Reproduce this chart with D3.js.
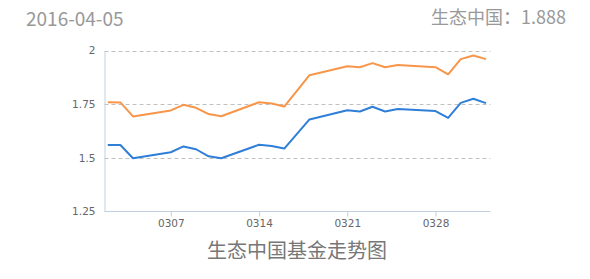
<!DOCTYPE html>
<html><head><meta charset="utf-8">
<script src="https://cdn.jsdelivr.net/npm/d3@7"></script>
<style>
html,body{margin:0;padding:0;background:#fff;}
svg{display:block;}
</style></head>
<body>
<svg id="c" width="590" height="279"></svg>
<script>
const dates = ["2016-03-02","2016-03-03","2016-03-04","2016-03-07","2016-03-08","2016-03-09","2016-03-10","2016-03-11","2016-03-14","2016-03-15","2016-03-16","2016-03-18","2016-03-21","2016-03-22","2016-03-23","2016-03-24","2016-03-25","2016-03-28","2016-03-29","2016-03-30","2016-03-31","2016-04-01"];
const orangeValues = [1.759,1.758,1.693,1.721,1.747,1.733,1.704,1.694,1.759,1.753,1.739,1.885,1.927,1.922,1.941,1.922,1.932,1.922,1.889,1.960,1.977,1.960];
const blueValues   = [1.560,1.560,1.498,1.526,1.553,1.540,1.507,1.498,1.561,1.555,1.543,1.679,1.722,1.716,1.738,1.716,1.727,1.718,1.686,1.756,1.775,1.755];
const yTicks = [1.25,1.5,1.75,2];
const xTickDates = ["2016-03-07","2016-03-14","2016-03-21","2016-03-28"];
const headerDate = "2016-04-05";
const headerValue = "生态中国：1.888";
const chartTitle = "生态中国基金走势图";

const svg = d3.select("#c");
const parse = d3.timeParse("%Y-%m-%d");
const DAY = 864e5;
const d0 = parse(dates[0]), d1 = parse(dates[dates.length-1]);
const x = d3.scaleTime()
  .domain([new Date(+d0 - 0.26*DAY), new Date(+d1 + 0.36*DAY)])
  .range([104.5, 490.5]);
const y = d3.scaleLinear().domain([1.25, 2]).range([211.5, 50.5]);

// grid
svg.append("g").selectAll("line").data(yTicks.filter(v=>v>1.25)).join("line")
  .attr("x1",104.5).attr("x2",490.5)
  .attr("y1",d=>Math.round(y(d))+0.5).attr("y2",d=>Math.round(y(d))+0.5)
  .attr("stroke","#c0c0c0").attr("stroke-width",1).attr("stroke-dasharray","4,3");

// y axis labels
const yAxis = d3.axisLeft(y).tickValues(yTicks).tickSize(0).tickPadding(9)
  .tickFormat(d=>d3.format("")(d));
const gy = svg.append("g").attr("transform","translate(104.5,0)").call(yAxis);
gy.select(".domain").attr("stroke","#c0d0e0");
gy.selectAll("text").attr("fill","#666").style("font-family","'DejaVu Sans',Verdana,sans-serif").style("font-size","10.5px");

// x axis
const xAxis = d3.axisBottom(x).tickValues(xTickDates.map(parse)).tickSize(5).tickPadding(3)
  .tickFormat(d3.timeFormat("%m%d"));
const gx = svg.append("g").attr("transform","translate(0,211.5)").call(xAxis);
gx.select(".domain").attr("stroke","#c0d0e0").attr("d","M104.5,0H490.5");
gx.selectAll(".tick line").attr("stroke","#c0d0e0");
gx.selectAll("text").attr("fill","#666").style("font-family","'DejaVu Sans',Verdana,sans-serif").style("font-size","10.5px");

// lines
const line = vals => d3.line().x((d,i)=>x(parse(dates[i]))).y(d=>y(d))(vals);
svg.append("path").attr("d",line(orangeValues)).attr("fill","none")
  .attr("stroke","#f7964a").attr("stroke-width",2).attr("stroke-linejoin","round");
svg.append("path").attr("d",line(blueValues)).attr("fill","none")
  .attr("stroke","#2f7ed8").attr("stroke-width",2).attr("stroke-linejoin","round");

// texts
svg.append("text").attr("x",26).attr("y",26).text(headerDate)
  .attr("fill","#999").style("font-family","'Noto Sans CJK SC','Noto Sans',sans-serif").style("font-size","19px");
svg.append("text").attr("x",566).attr("y",24).attr("text-anchor","end").text(headerValue)
  .attr("fill","#999").style("font-family","'Noto Sans CJK SC','Noto Sans',sans-serif").style("font-size","18px");
svg.append("text").attr("x",297).attr("y",258).attr("text-anchor","middle").text(chartTitle)
  .attr("fill","#777").style("font-family","'Noto Sans CJK SC',sans-serif").style("font-size","20px");
</script>
</body></html>
